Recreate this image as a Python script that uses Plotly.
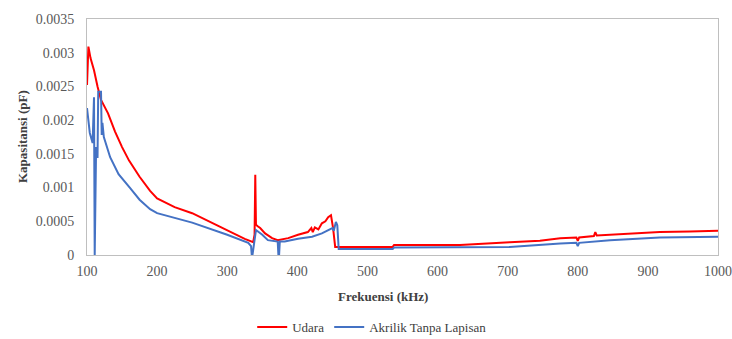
import plotly.graph_objects as go

# Udara (red)
udara_f = [100, 102, 105, 110, 115, 120, 130, 140, 150, 160, 175, 190, 200, 225, 250, 275, 300, 325, 337,
           339, 340, 341, 343, 347, 354, 364, 372, 387, 401, 415, 420, 422, 425, 430, 435, 440, 444, 448, 451, 454,
           460, 500, 536, 538, 600, 632, 703, 746, 775, 798, 800, 802, 823, 825, 827, 846, 860, 917, 960, 1000]
udara_v = [0.00252, 0.00309, 0.00292, 0.00274, 0.00250, 0.00230, 0.00210, 0.00183, 0.00160, 0.00140, 0.00116, 0.00095, 0.00084, 0.00071, 0.00062, 0.00049, 0.00037, 0.00024, 0.00019,
           0.00030, 0.00119, 0.00045, 0.00043, 0.00040, 0.00032, 0.00025, 0.00022, 0.00025, 0.00030, 0.00034, 0.00040, 0.00034, 0.00041, 0.00038, 0.00047, 0.00050, 0.00056, 0.00059, 0.00040, 0.00012,
           0.00012, 0.00012, 0.00012, 0.00015, 0.00015, 0.00015, 0.00019, 0.00021, 0.00025, 0.00026, 0.00021, 0.00026, 0.00028, 0.00034, 0.00029, 0.00030, 0.00031, 0.00034, 0.00035, 0.00036]

# Akrilik Tanpa Lapisan (blue)
akrilik_f = [100, 102, 104, 108, 110, 111, 113, 115, 116, 120, 121, 122, 124, 133, 145, 161, 175, 190, 200, 250, 300, 330, 334,
             335, 336, 341, 345, 350, 358, 372, 373, 374, 375, 382, 401, 421, 435, 444, 450, 452, 455, 457, 459,
             500, 536, 538, 632, 703, 775, 798, 800, 802, 846, 917, 1000]
akrilik_v = [0.00218, 0.00200, 0.00181, 0.00166, 0.00234, 0.0, 0.00160, 0.00144, 0.00242, 0.00242, 0.00178, 0.00196, 0.00175, 0.00145, 0.00120, 0.00100, 0.00082, 0.00068, 0.00062, 0.00048, 0.00030, 0.00018, 0.00013,
             0.0, 0.0, 0.00037, 0.00034, 0.00030, 0.00022, 0.00020, 0.0, 0.0, 0.00020, 0.00020, 0.00024, 0.00027, 0.00032, 0.00037, 0.00040, 0.00036, 0.00049, 0.00044, 0.00009,
             0.00009, 0.00009, 0.00011, 0.00011, 0.00012, 0.00017, 0.00018, 0.00013, 0.00018, 0.00022, 0.00026, 0.00027]

x_ticks = [100, 200, 300, 400, 500, 600, 700, 800, 900, 1000]
y_ticks = [0, 0.0005, 0.001, 0.0015, 0.002, 0.0025, 0.003, 0.0035]
y_labels = ["0", "0.0005", "0.001", "0.0015", "0.002", "0.0025", "0.003", "0.0035"]

FONT = "Liberation Serif, Times New Roman, serif"

fig = go.Figure()
fig.add_trace(go.Scatter(x=udara_f, y=udara_v, mode="lines", name="Udara",
                         line=dict(color="#FF0000", width=2)))
fig.add_trace(go.Scatter(x=akrilik_f, y=akrilik_v, mode="lines", name="Akrilik Tanpa Lapisan",
                         line=dict(color="#4472C4", width=2)))

fig.update_layout(
    width=732, height=339,
    margin=dict(l=87, r=14, t=19, b=84, autoexpand=False),
    paper_bgcolor="white", plot_bgcolor="white",
    font=dict(family=FONT, size=13, color="#404040"),
    showlegend=True,
    legend=dict(orientation="h", x=0.452, xanchor="center", y=-0.305, yanchor="middle",
                font=dict(family=FONT, size=13, color="#404040"),
                itemwidth=30, tracegroupgap=0),
    xaxis=dict(range=[100, 1000], tickvals=x_ticks, showgrid=False, zeroline=False, automargin=False,
               showline=True, linecolor="#bfbfbf", linewidth=1, mirror=True, ticklabeloverflow="allow",
               ticks="", ticklabelstandoff=3, tickfont=dict(family=FONT, size=14, color="#595959")),
    yaxis=dict(range=[0, 0.0035], tickvals=y_ticks, ticktext=y_labels, showgrid=False, zeroline=False, automargin=False,
               showline=True, linecolor="#bfbfbf", linewidth=1, mirror=True,
               ticks="", ticklabelstandoff=9, tickfont=dict(family=FONT, size=14, color="#595959")),
    annotations=[
        dict(text="<b>Frekuensi (kHz)</b>", x=0.469, y=-0.174, xref="paper", yref="paper",
             xanchor="center", yanchor="middle", showarrow=False,
             font=dict(family=FONT, size=13, color="#404040")),
        dict(text="<b>Kapasitansi (pF)</b>", x=-0.103, y=0.5, xref="paper", yref="paper",
             xanchor="center", yanchor="middle", showarrow=False, textangle=-90,
             font=dict(family=FONT, size=13, color="#404040")),
    ],
)

fig.write_html(
    "out.html",
    config={"displayModeBar": False},
    post_script="document.body.style.margin='0';document.body.style.padding='0';"
                "document.documentElement.style.overflow='hidden';document.body.style.overflow='hidden';",
)
